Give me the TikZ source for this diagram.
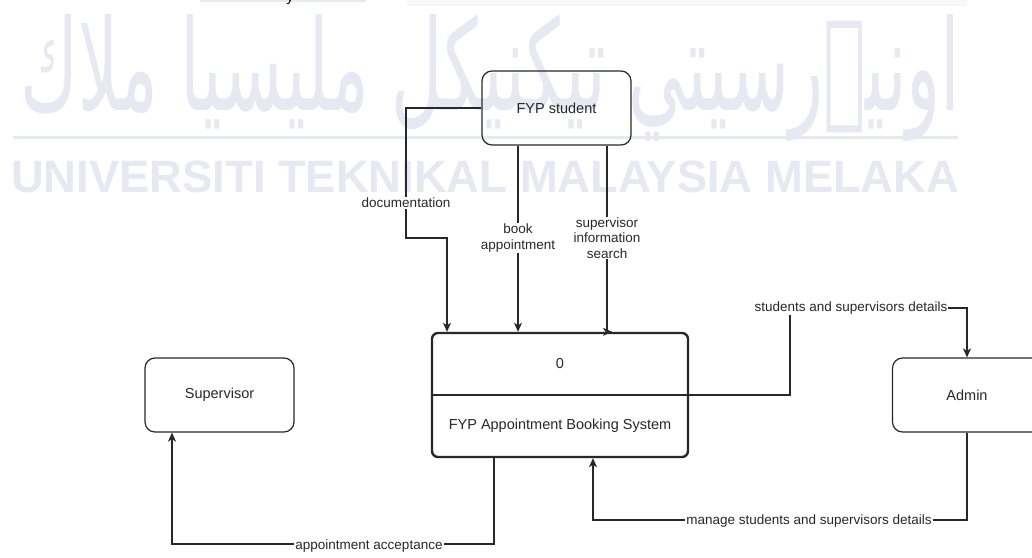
\documentclass[tikz,border=0pt]{standalone}
\usepackage{fontspec}
\setmainfont{Liberation Sans}
\newfontfamily\jawi[Script=Arabic]{DejaVu Sans}
\TeXXeTstate=1
\usetikzlibrary{arrows.meta}
\definecolor{wmc}{RGB}{230,233,242}
\definecolor{stripc}{RGB}{247,247,248}
\definecolor{ink}{RGB}{40,40,40}
\tikzset{
  ent/.style={draw=ink, line width=1.2pt, rounded corners=10pt,
    minimum width=149pt, minimum height=74pt,
    font=\fontsize{14.5}{17}\selectfont, text=ink},
  proc/.style={draw=ink, line width=2.4pt, rounded corners=6pt,
    minimum width=256pt, minimum height=124pt},
  ptext/.style={font=\fontsize{14.5}{17}\selectfont, text=ink},
  flow/.style={draw=ink, line width=1.3pt,
    -{Stealth[length=9pt,width=8pt,inset=2.5pt]}},
  lbl/.style={fill=white, inner sep=1pt, align=center,
    font=\fontsize{13.5}{15.5}\selectfont, text=ink},
  wm/.style={text=wmc, inner sep=0pt}
}
\begin{document}
\begin{tikzpicture}[x=1pt,y=-1pt]
\useasboundingbox (0,0) rectangle (1032,557);
\fill[white] (0,0) rectangle (1032,557);

% page fragments along the top edge
\fill[wmc] (200,0) rectangle (366,2);
\fill[stripc] (407,0) rectangle (967,6);
\node[anchor=base, inner sep=0pt, font=\fontsize{15}{17}\selectfont] (ytail) at (290,1) {y};

% university watermark
\node[wm, anchor=north west] (wmjawi) at (20,14)
  {\resizebox{940pt}{96pt}{\jawi\beginR اونيۏرسيتي تيكنيكل مليسيا ملاك\endR}};
\draw[wmc, line width=3pt] (13,137) -- (958,137);
\node[wm, anchor=base west] (wmname) at (11,192)
  {\resizebox{948pt}{!}{\fontsize{56}{60}\selectfont\bfseries UNIVERSITI TEKNIKAL MALAYSIA MELAKA}};

% entities
\node[ent] (student) at (556.5,108) {FYP student};
\node[ent] (supervisor) at (219.5,395) {Supervisor};
\node[ent] (admin) at (967,395) {Admin};

% process
\node[proc] (process) at (560,395) {};
\draw[ink, line width=1.3pt] (process.west) -- (process.east);
\node[ptext] (pid) at (560,364) {0};
\node[ptext] (pname) at (560,426) {FYP Appointment Booking System};

% data flows from the student
\coordinate (docbend) at (406,238);
\draw[flow] (student.west) -| (docbend) -| ([xshift=-113pt]process.north);
\node[lbl] (ldoc) at (406,203) {documentation};

\coordinate (b1) at ([xshift=-38.5pt]student.south);
\draw[flow] (b1) -- (b1 |- process.north);
\node[lbl] (lbook) at (518,238) {book\\appointment};

\coordinate (s1) at ([xshift=50.5pt]student.south);
\draw[flow] (s1) |- ([xshift=5pt]s1 |- process.north);
\node[lbl] (lsearch) at (607,238) {supervisor\\information\\search};

% process to admin
\coordinate (dbend) at (790,308);
\draw[flow] (process.east) -| (dbend) -| (admin.north);
\node[lbl] (ldet) at (851,308) {students and supervisors details};

% admin to process
\coordinate (mbend) at (593,520);
\draw[flow] (admin.south) |- (mbend) -- (mbend |- process.south);
\node[lbl] (lman) at (809,521) {manage students and supervisors details};

% process to supervisor
\coordinate (a0) at ([xshift=-66pt]process.south);
\coordinate (abend) at (172,544);
\draw[flow] (a0) |- (abend) -- (abend |- supervisor.south);
\node[lbl] (lacc) at (369,546) {appointment acceptance};
\end{tikzpicture}
\end{document}
